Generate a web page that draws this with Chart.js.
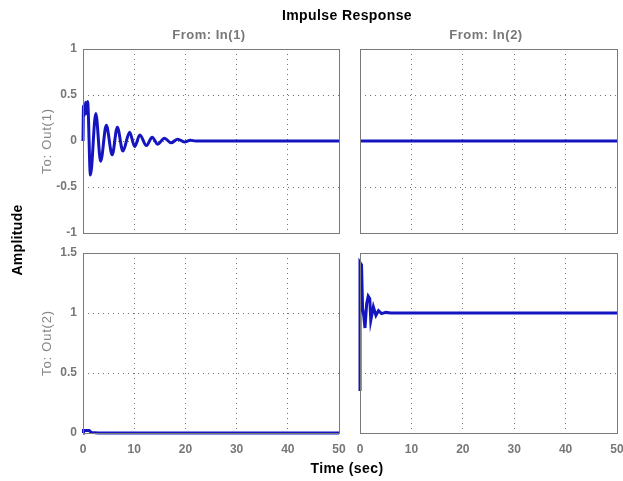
<!DOCTYPE html>
<html>
<head>
<meta charset="utf-8">
<script src="https://cdn.jsdelivr.net/npm/chart.js@4/dist/chart.umd.min.js"></script>
<style>
  html, body { margin: 0; padding: 0; background: #fff; }
  #wrap { position: relative; width: 623px; height: 481px; overflow: hidden; background: #fff; font-family: Arial, "Liberation Sans", sans-serif; }
  canvas { position: absolute; left: 0; top: 0; }
  .t { position: absolute; white-space: nowrap; transform: translate(-50%, -50%); }
  .title { font-weight: bold; font-size: 14px; color: #000; letter-spacing: 0.4px; }
  .col { font-weight: bold; font-size: 13px; color: #777; letter-spacing: 0.5px; }
  .row { font-size: 13px; color: #888; letter-spacing: 0.8px; transform: translate(-50%, -50%) rotate(-90deg); }
  .amp { font-weight: bold; font-size: 14px; color: #000; letter-spacing: 0.3px; transform: translate(-50%, -50%) rotate(-90deg); }
</style>
</head>
<body>
<div id="wrap">
  <canvas id="c11" width="623" height="481"></canvas>
  <canvas id="c12" width="623" height="481"></canvas>
  <canvas id="c21" width="623" height="481"></canvas>
  <canvas id="c22" width="623" height="481"></canvas>
  <div class="t title" style="left:347px; top:15px;">Impulse Response</div>
  <div class="t col" style="left:209px; top:34px;">From: In(1)</div>
  <div class="t col" style="left:486px; top:34px;">From: In(2)</div>
  <div class="t row" style="left:46px; top:141px;">To: Out(1)</div>
  <div class="t row" style="left:46px; top:343px;">To: Out(2)</div>
  <div class="t amp" style="left:17px; top:240px;">Amplitude</div>
  <div class="t title" style="left:347px; top:468px;">Time (sec)</div>
</div>
<script>
// ---- data ----
const xTicks = [0, 10, 20, 30, 40, 50];
const yTicksTop = [-1, -0.5, 0, 0.5, 1];
const yTicksBottom = [0, 0.5, 1, 1.5];

// In(1) -> Out(1)
const t11 = [0, 0.1, 0.3, 0.5, 0.7, 0.9, 1.45, 2.5, 3.45, 4.55, 5.7, 6.7, 7.8, 9.1, 10.1, 11.1, 12.4, 13.5, 14.6, 15.9, 17.2, 18.5, 19.8, 21, 22, 50];
const y11 = [0, 0.38, 0.28, 0.42, 0.3, 0.43, -0.37, 0.30, -0.22, 0.17, -0.15, 0.15, -0.11, 0.095, -0.06, 0.065, -0.05, 0.04, -0.035, 0.03, -0.02, 0.02, -0.01, 0.008, 0, 0];
// In(2) -> Out(1)
const t12 = [0, 50];
const y12 = [0, 0];
// In(1) -> Out(2)
const t21 = [0, 0.1, 1.2, 1.6, 3, 50];
const y21 = [0, 0.02, 0.02, 0.005, 0, 0];
// In(2) -> Out(2)
const t22 = [0, 0, 0.3, 0.5, 0.75, 0.97, 1.3, 1.6, 1.9, 2.1, 2.6, 3.1, 3.6, 4.2, 5, 6, 50];
const y22 = [0.35, 1.42, 1.4, 1.04, 0.97, 0.875, 1.08, 1.14, 1.12, 0.94, 1.05, 0.98, 1.02, 0.995, 1.005, 1.0, 1.0];

const W = 623, H = 481;
const LINE = '#1414c0';
const GRID = 'rgba(0,0,0,0.55)';
const TICKFONT = { family: 'Arial, "Liberation Sans", sans-serif', size: 12, weight: 'bold' };

const boxPlugin = {
  id: 'box',
  afterDraw(chart) {
    const a = chart.chartArea, c = chart.ctx;
    c.save();
    c.strokeStyle = '#7a7a7a';
    c.lineWidth = 1;
    c.strokeRect(Math.round(a.left) + 0.5, Math.round(a.top) + 0.5, Math.round(a.right - a.left), Math.round(a.bottom - a.top));
    c.restore();
  }
};

function zip(t, y) { return t.map((v, i) => ({ x: v, y: y[i] })); }

function makePanel(id, t, y, area, yTicks, showX, showY, smooth) {
  const yMin = yTicks[0], yMax = yTicks[yTicks.length - 1];
  const ds = { data: zip(t, y), borderColor: LINE, borderWidth: 3, pointRadius: 0, tension: 0, fill: false, clip: 3 };
  if (smooth) ds.cubicInterpolationMode = 'monotone';
  new Chart(document.getElementById(id), {
    type: 'line',
    data: { datasets: [ds] },
    options: {
      responsive: false, animation: false, devicePixelRatio: 1,
      layout: { autoPadding: false, padding: { left: area.left - (showY ? 50 : 0), right: W - area.right, top: area.top, bottom: H - area.bottom - (showX ? 20 : 0) } },
      plugins: { legend: { display: false }, tooltip: { enabled: false } },
      scales: {
        x: {
          type: 'linear', min: 0, max: 50,
          afterBuildTicks: s => { s.ticks = xTicks.map(v => ({ value: v })); },
          afterFit: s => { s.height = showX ? 20 : 0; s.paddingLeft = 0; s.paddingRight = 0; },
          grid: { color: GRID, lineWidth: 1, drawTicks: false, borderDash: [1, 4] },
          border: { display: false, dash: [1, 4] },
          ticks: { display: showX, padding: 9, color: '#777', font: TICKFONT, maxRotation: 0, autoSkip: false, callback: v => String(v) }
        },
        y: {
          type: 'linear', min: yMin, max: yMax,
          afterBuildTicks: s => { s.ticks = yTicks.map(v => ({ value: v })); },
          afterFit: s => { s.width = showY ? 50 : 0; s.paddingTop = 0; s.paddingBottom = 0; },
          grid: { color: GRID, lineWidth: 1, drawTicks: false, borderDash: [1, 4] },
          border: { display: false, dash: [1, 4] },
          ticks: { display: showY, padding: 6, color: '#777', font: TICKFONT, autoSkip: false, callback: v => String(v) }
        }
      }
    },
    plugins: [boxPlugin]
  });
}

makePanel('c11', t11, y11, { left: 83, right: 339, top: 49, bottom: 233 }, yTicksTop, false, true, true);
makePanel('c12', t12, y12, { left: 360, right: 617, top: 49, bottom: 233 }, yTicksTop, false, false, false);
makePanel('c21', t21, y21, { left: 83, right: 339, top: 253, bottom: 433 }, yTicksBottom, true, true, false);
makePanel('c22', t22, y22, { left: 360, right: 617, top: 253, bottom: 433 }, yTicksBottom, true, false, false);
</script>
</body>
</html>
